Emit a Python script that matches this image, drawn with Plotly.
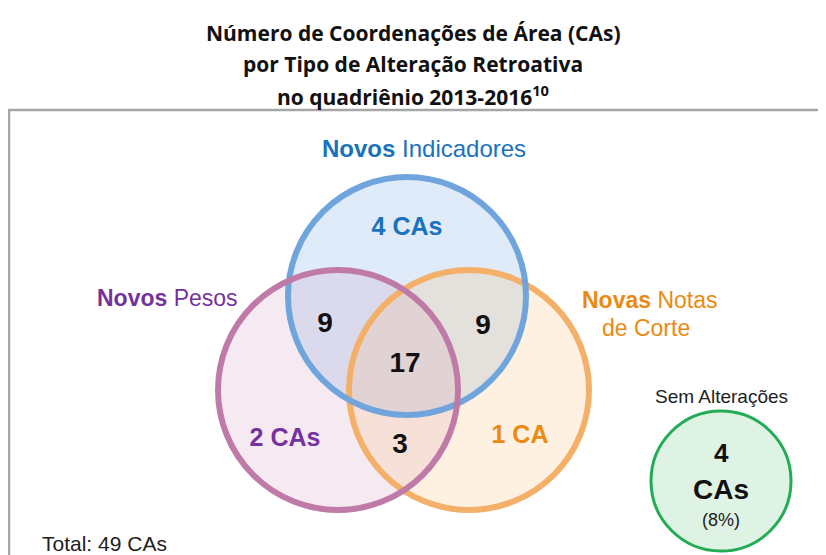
import plotly.graph_objects as go

# ---- data ----
sets = ["Novos Indicadores", "Novos Pesos", "Novas Notas de Corte"]
region_labels = ["Só Indicadores", "Indicadores+Pesos", "Indicadores+Notas",
                 "Todos", "Pesos+Notas", "Só Pesos", "Só Notas"]
region_values = [4, 9, 9, 17, 3, 2, 1]
sem_alteracoes = 4
total_cas = 49

# page offset (body margin) handled via axis ranges: data units == page pixels
OFF = 8
W, H = 826 - OFF, 555 - OFF
fig = go.Figure()

BLUE_S, PURP_S, ORNG_S, GREEN_S = "#6fa5dc", "#c07aa8", "#f4b068", "#22ad55"
BLUE_T, PURP_T, ORNG_T = "#1a72bd", "#7432a0", "#ea8a12"

def circ(cx, cy, r, fill, line, lw, layer="below"):
    return dict(type="circle", xref="x", yref="y", x0=cx - r, x1=cx + r,
                y0=cy - r, y1=cy + r, fillcolor=fill,
                line=dict(color=line, width=lw), layer=layer)

shapes = []
# frame
shapes.append(dict(type="rect", xref="x", yref="y", x0=9, x1=840, y0=110, y1=570,
                   line=dict(color="#a6a6a6", width=2.5), fillcolor="rgba(0,0,0,0)"))
# fills
shapes.append(circ(407, 296, 119, "rgba(120,170,225,0.24)", "rgba(0,0,0,0)", 0))
shapes.append(circ(338, 390, 120, "rgba(200,130,180,0.17)", "rgba(0,0,0,0)", 0))
shapes.append(circ(469, 390, 120, "rgba(250,190,120,0.21)", "rgba(0,0,0,0)", 0))
# strokes (orange, blue, purple)
shapes.append(circ(469, 390, 120, "rgba(0,0,0,0)", ORNG_S, 6))
shapes.append(circ(407, 296, 119, "rgba(0,0,0,0)", BLUE_S, 6))
shapes.append(circ(338, 390, 120, "rgba(0,0,0,0)", PURP_S, 6))
# sem alterações
shapes.append(circ(721, 481, 70, "#dff3e5", GREEN_S, 3))

# region numbers
pos_x = [407, 325, 483, 405, 400, 285, 520]
pos_y = [229, 325, 327, 365, 446, 440, 437]
FONT = "Liberation Sans, Arial, sans-serif"

num_idx = [1, 2, 3, 4]
fig.add_trace(go.Scatter(
    x=[pos_x[i] for i in num_idx], y=[pos_y[i] for i in num_idx], mode="text",
    text=[f"<b>{region_values[i]}</b>" for i in num_idx],
    textfont=dict(family=FONT, size=28, color="#111111"),
    textposition="middle center", hoverinfo="skip", showlegend=False))

lab_idx = [0, 5, 6]
lab_txt = [f"<b>{region_values[0]} CAs</b>", f"<b>{region_values[5]} CAs</b>",
           f"<b>{region_values[6]} CA</b>"]
fig.add_trace(go.Scatter(
    x=[pos_x[i] for i in lab_idx], y=[pos_y[i] for i in lab_idx], mode="text",
    text=lab_txt,
    textfont=dict(family=FONT, size=25, color=[BLUE_T, PURP_T, ORNG_T]),
    textposition="middle center", hoverinfo="skip", showlegend=False))

ann = []
def a(x, y, t, size, color, xanchor="center", family=FONT):
    ann.append(dict(x=x, y=y, xref="x", yref="y", text=t, showarrow=False,
                    font=dict(size=size, color=color, family=family),
                    xanchor=xanchor, yanchor="middle"))

a(424, 148, "<b>Novos</b> Indicadores", 24, BLUE_T)
a(167, 298, "<b>Novos</b> Pesos", 23, PURP_T)
a(650, 300, "<b>Novas</b> Notas", 23, ORNG_T)
a(646, 328, "de Corte", 23, ORNG_T)
a(721, 396, "Sem Alterações", 19, "#222222")
a(721, 453, f"<b>{sem_alteracoes}</b>", 26, "#111111")
a(721, 489, "<b>CAs</b>", 28, "#111111")
a(721, 520, f"({round(100*sem_alteracoes/total_cas)}%)", 18, "#222222")
a(40, 543, f"Total: {total_cas} CAs", 21, "#222222", xanchor="left")

TF = "Open Sans, sans-serif"
a(413, 33, "<b>Número de Coordenações de Área (CAs)</b>", 21, "#111111", family=TF)
a(413, 64, "<b>por Tipo de Alteração Retroativa</b>", 21, "#111111", family=TF)
a(413, 95, "<b>no quadriênio 2013-2016<sup>10</sup></b>", 21, "#111111", family=TF)

fig.update_layout(
    width=W, height=H, margin=dict(l=0, r=0, t=0, b=0),
    paper_bgcolor="white", plot_bgcolor="white",
    shapes=shapes, annotations=ann,
    xaxis=dict(range=[OFF, OFF + W], visible=False, fixedrange=True),
    yaxis=dict(range=[OFF + H, OFF], visible=False, fixedrange=True),
)
fig.write_html("out.html")
